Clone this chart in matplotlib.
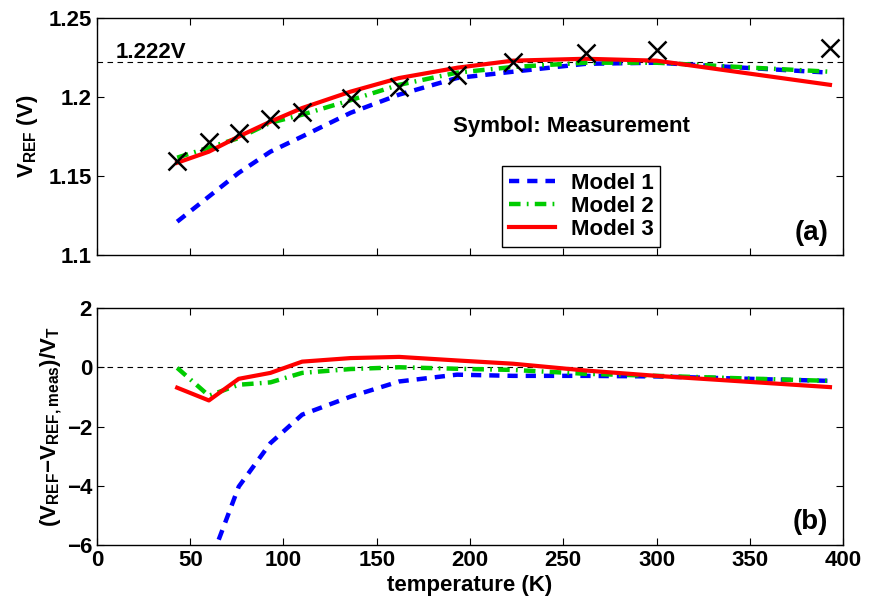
#!/usr/bin/env python3

import matplotlib
matplotlib.use('Agg')
import matplotlib.pyplot as plt

plt.rcParams['font.family'] = ['Liberation Sans', 'DejaVu Sans']
plt.rcParams['font.weight'] = 'bold'
plt.rcParams['axes.labelweight'] = 'bold'
plt.rcParams['font.size'] = 16
plt.rcParams['mathtext.fontset'] = 'custom'
plt.rcParams['mathtext.rm'] = 'Liberation Sans:bold'
plt.rcParams['mathtext.bf'] = 'Liberation Sans:bold'
plt.rcParams['mathtext.it'] = 'Liberation Sans:bold'
plt.rcParams['mathtext.default'] = 'bf'

# measurement temperatures (K)
temp = [43, 60, 76, 93, 110, 136, 162, 193, 223, 262, 300, 393]

# (a) reference voltage (V)
vref_meas = [1.1597, 1.1717, 1.1774, 1.1862, 1.1905, 1.1995, 1.2065, 1.2140,
             1.2223, 1.2280, 1.2300, 1.2311]
vref_m1 = [1.1211, 1.1370, 1.1520, 1.1654, 1.1750, 1.1900, 1.2015, 1.2120,
           1.2160, 1.2210, 1.2217, 1.2154]
vref_m2 = [1.1616, 1.1680, 1.1740, 1.1837, 1.1888, 1.1980, 1.2077, 1.2154,
           1.2190, 1.2217, 1.2217, 1.2160]
vref_m3 = [1.1584, 1.1654, 1.1750, 1.1844, 1.1930, 1.2034, 1.2120, 1.2185,
           1.2230, 1.2242, 1.2230, 1.2077]

# (b) normalised error
err_m1 = [-10.4, -6.7, -4.03, -2.56, -1.60, -0.99, -0.48, -0.25, -0.29, -0.29,
          -0.31, -0.46]
err_m2 = [-0.02, -0.96, -0.59, -0.51, -0.19, -0.06, 0.0, -0.05, -0.09, -0.22,
          -0.29, -0.46]
err_m3 = [-0.69, -1.12, -0.39, -0.19, 0.19, 0.31, 0.35, 0.23, 0.12, -0.11,
          -0.29, -0.67]

vref_line = 1.222

fig = plt.figure(figsize=(8.69, 6.08), dpi=100)
ax1 = fig.add_axes([0.1116, 0.5806, 0.8585, 0.3898])
ax2 = fig.add_axes([0.1116, 0.1036, 0.8585, 0.3898])

blue_dash = (2.3, 1.8)
green_dash = (2.6, 1.4, 0.4, 1.4)

ax1.plot([0, 400], [vref_line, vref_line], 'k--', lw=0.8, dashes=(5, 4))
h1, = ax1.plot(temp, vref_m1, color='#0000ff', lw=3.2, dashes=blue_dash,
               label='Model 1')
h2, = ax1.plot(temp, vref_m2, color='#00cc00', lw=3.2, dashes=green_dash,
               label='Model 2')
h3, = ax1.plot(temp, vref_m3, color='#ff0000', lw=3.0, label='Model 3')
ax1.plot(temp, vref_meas, 'kx', ms=13, mew=1.8, ls='none')

ax1.set_xlim(0, 400)
ax1.set_ylim(1.1, 1.25)
ax1.set_yticks([1.1, 1.15, 1.2, 1.25])
ax1.set_yticklabels(['1.1', '1.15', '1.2', '1.25'])
ax1.set_xticks(range(0, 401, 50))
ax1.set_xticklabels([])
ax1.set_ylabel(r'V$_{REF}$ (V)', labelpad=6)
ax1.text(10, 1.2249, '1.222V', ha='left', va='baseline')
ax1.text(191, 1.178, 'Symbol: Measurement', ha='left', va='baseline')
ax1.text(392, 1.1097, '(a)', ha='right', va='baseline', fontsize=20)
leg = ax1.legend(handles=[h1, h2, h3], loc='lower left',
                 bbox_to_anchor=(0.543, 0.034), fancybox=False,
                 edgecolor='k', framealpha=1, borderpad=0.3,
                 labelspacing=0.1, handlelength=2.1, handletextpad=0.7,
                 borderaxespad=0)
leg.get_frame().set_linewidth(1.0)

ax2.plot([0, 400], [0, 0], 'k--', lw=0.8, dashes=(5, 4))
ax2.plot(temp, err_m1, color='#0000ff', lw=3.2, dashes=blue_dash)
ax2.plot(temp, err_m2, color='#00cc00', lw=3.2, dashes=green_dash)
ax2.plot(temp, err_m3, color='#ff0000', lw=3.0)
ax2.set_xlim(0, 400)
ax2.set_ylim(-6, 2)
ax2.set_yticks([-6, -4, -2, 0, 2])
ax2.set_xticks(range(0, 401, 50))
ax2.set_xlabel('temperature (K)', labelpad=3)
ax2.set_ylabel(r'(V$_{REF}$$-$V$_{REF,meas}$)/V$_T$', labelpad=2)
ax2.text(392, -5.45, '(b)', ha='right', va='baseline', fontsize=20)

for ax in (ax1, ax2):
    ax.tick_params(direction='in', top=True, right=True, length=5, width=0.8)
    for s in ax.spines.values():
        s.set_linewidth(1.0)

fig.savefig('out.png', dpi=100)
